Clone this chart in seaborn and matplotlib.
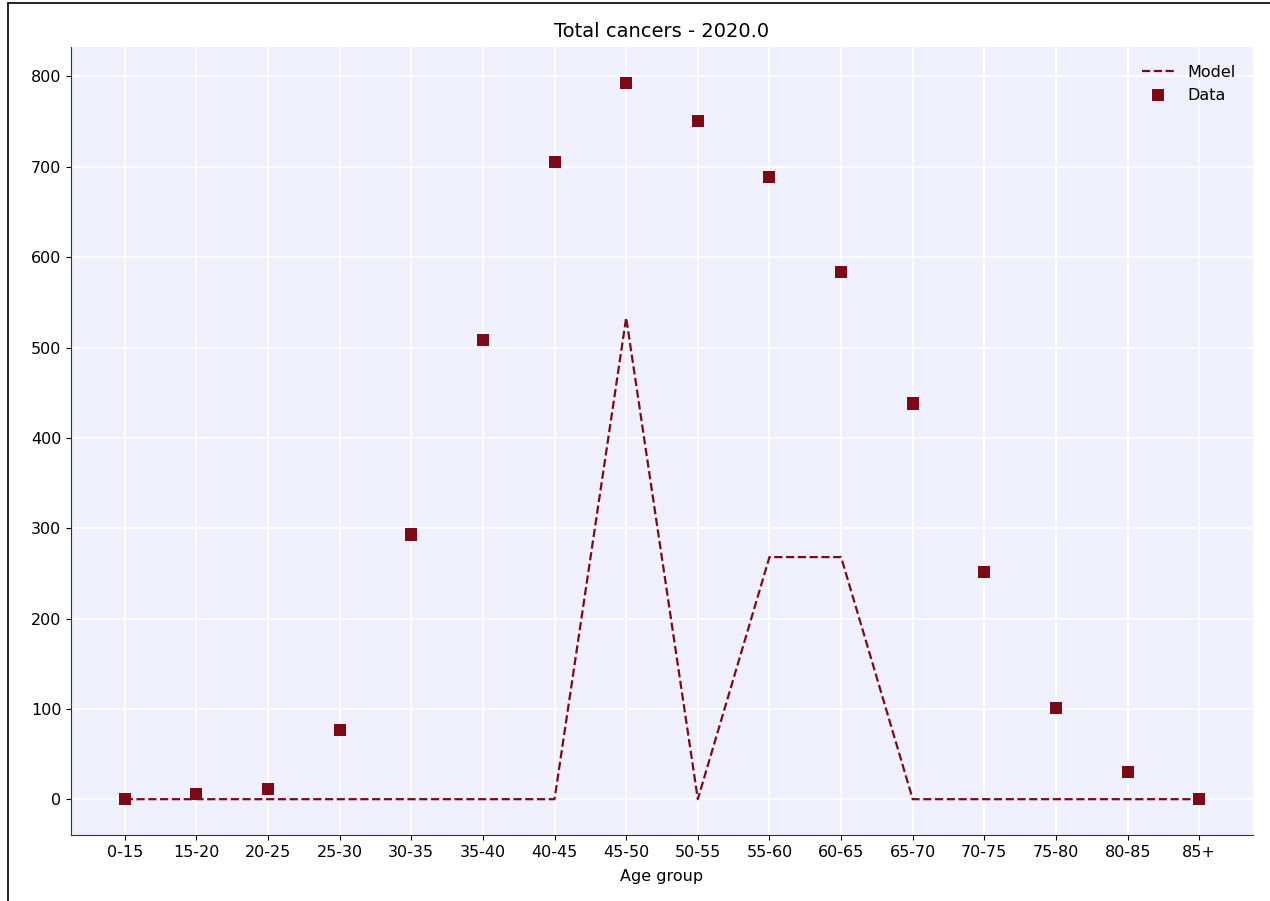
import matplotlib
matplotlib.use("Agg")
import matplotlib.pyplot as plt
import seaborn as sns
import pandas as pd
from matplotlib.lines import Line2D

age_groups = ["0-15", "15-20", "20-25", "25-30", "30-35", "35-40", "40-45", "45-50",
              "50-55", "55-60", "60-65", "65-70", "70-75", "75-80", "80-85", "85+"]
model_values = [0, 0, 0, 0, 0, 0, 0, 533, 0, 268, 268, 0, 0, 0, 0, 0]
data_values = [0, 6, 11, 77, 293, 508, 705, 793, 751, 689, 584, 438, 251, 101, 30, 0]

title = "Total cancers - 2020.0"
xlabel = "Age group"
color = "#7b0a16"

sns.set_style("ticks")
plt.rcParams['font.family'] = ['DejaVu Sans']
plt.rcParams['text.color'] = 'black'
plt.rcParams['axes.labelcolor'] = 'black'
plt.rcParams['xtick.color'] = 'black'
plt.rcParams['ytick.color'] = 'black'

df = pd.DataFrame({"age": age_groups, "model": model_values, "data": data_values})
df["pos"] = range(len(age_groups))

fig = plt.figure(figsize=(12.7, 9.01), dpi=100)
ax = fig.add_axes([71/1270, 1 - 835/901, (1253-71)/1270, (835-47)/901])
ax.set_facecolor("#f0f0fc")
ax.grid(True, color="white", linewidth=1.2)
ax.set_axisbelow(True)

sns.lineplot(data=df, x="pos", y="model", ax=ax, color=color, linestyle="--",
             linewidth=1.6, label="Model")
sns.scatterplot(data=df, x="pos", y="data", ax=ax, color=color, marker="s", s=75,
                edgecolor="none", label="Data", zorder=3)

ax.set_xticks(df["pos"])
ax.set_xticklabels(age_groups)
ax.set_xlabel(xlabel, fontsize=11.5, labelpad=7)
ax.set_ylabel("")
ax.set_title(title, fontsize=14, pad=7)
ax.tick_params(labelsize=11.5)
for s in ["top", "right"]:
    ax.spines[s].set_visible(False)
for s in ["left", "bottom"]:
    ax.spines[s].set_color("#333333")
ax.legend(loc="upper right", frameon=False, fontsize=11.5, borderaxespad=0.7)

# figure border (partially cropped)
fig.add_artist(Line2D([8/1270, 8/1270], [0, 1 - 2.5/901], color="black", linewidth=1.2,
                      transform=fig.transFigure))
fig.add_artist(Line2D([8/1270, 1], [1 - 2.5/901, 1 - 2.5/901], color="black", linewidth=1.2,
                      transform=fig.transFigure))

fig.savefig("out.png", dpi=100)
